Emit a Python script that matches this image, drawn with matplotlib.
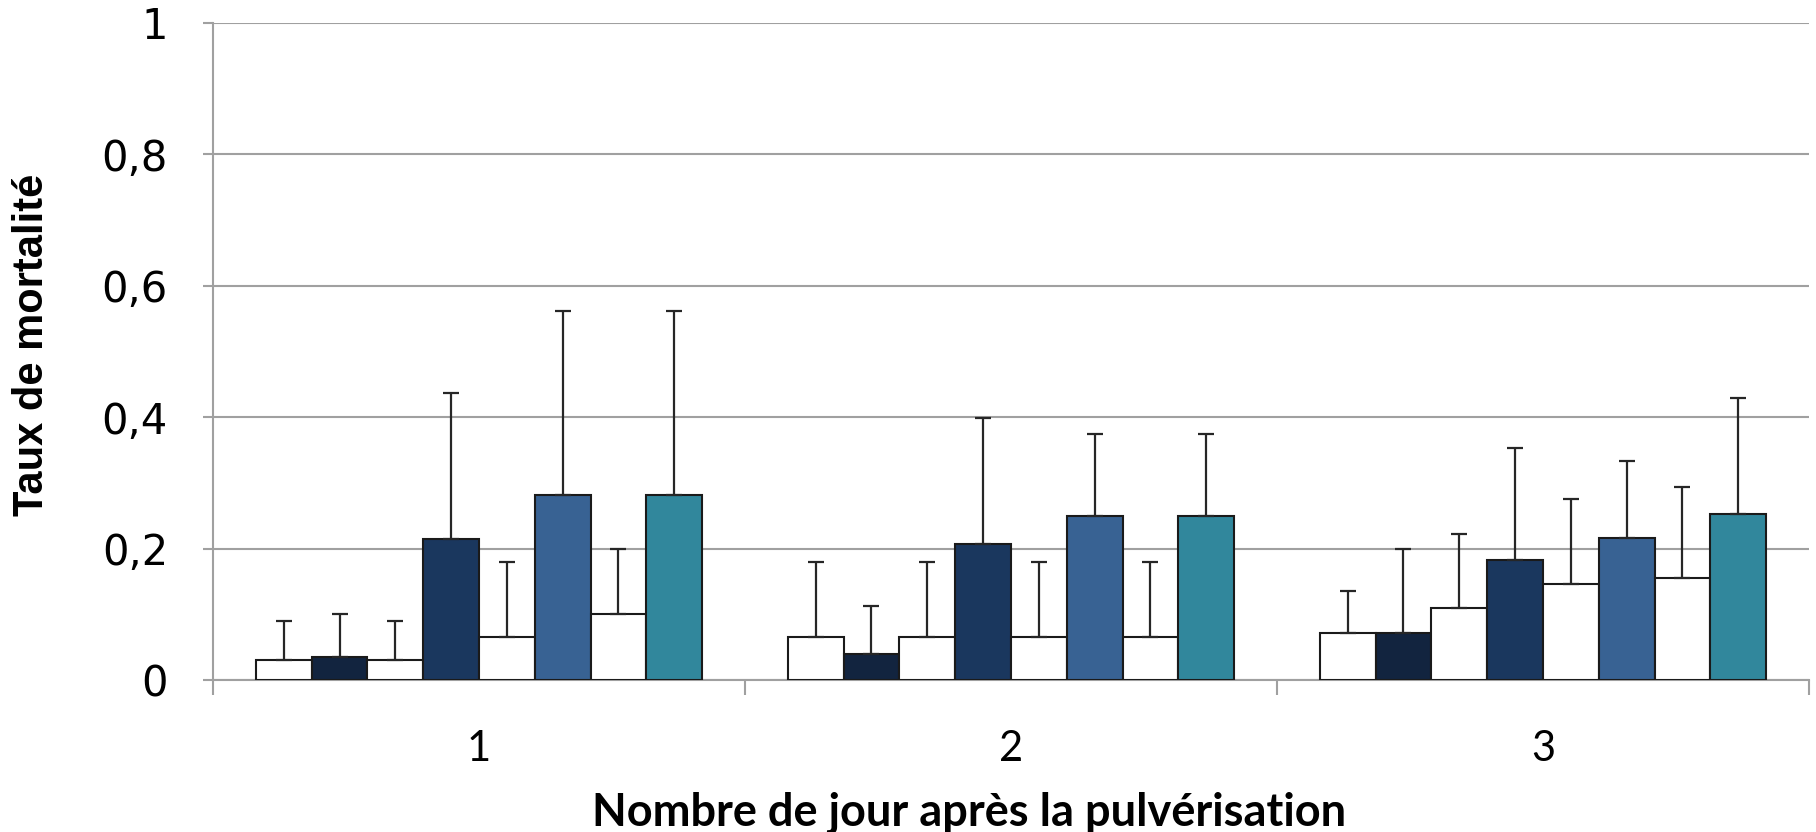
import matplotlib
matplotlib.use("Agg")
import matplotlib.pyplot as plt
import numpy as np

plt.rcParams['font.family'] = ['Lato', 'DejaVu Sans']

days = ["1", "2", "3"]
colors = ["#ffffff", "#12243f", "#ffffff", "#1a375e", "#ffffff", "#386293", "#ffffff", "#31879c"]
values = [
    [0.031, 0.035, 0.031, 0.214, 0.065, 0.282, 0.100, 0.282],
    [0.065, 0.040, 0.065, 0.207, 0.065, 0.249, 0.065, 0.249],
    [0.072, 0.071, 0.109, 0.182, 0.146, 0.216, 0.155, 0.253],
]
errors = [
    [0.059, 0.065, 0.059, 0.223, 0.115, 0.279, 0.100, 0.279],
    [0.115, 0.072, 0.115, 0.191, 0.115, 0.125, 0.115, 0.125],
    [0.064, 0.129, 0.113, 0.171, 0.129, 0.118, 0.138, 0.176],
]
ytick_vals = [0, 0.2, 0.4, 0.6, 0.8, 1.0]
ytick_labels = ["0", "0,2", "0,4", "0,6", "0,8", "1"]

fig = plt.figure(figsize=(18.16, 8.32), dpi=100)
ax = fig.add_axes([0.1173, 0.1827, 0.8788, 0.7897])

n = len(colors)
bw = 0.839 / n
x = np.arange(1, len(days) + 1)
vals = np.array(values)
errs = np.array(errors)
for i in range(n):
    pos = x - 0.839 / 2 + bw * (i + 0.5)
    ax.bar(pos, vals[:, i], width=bw, color=colors[i], edgecolor="#1a1a1a",
           linewidth=1.5, zorder=3)
    ax.errorbar(pos, vals[:, i], yerr=[np.zeros(len(days)), errs[:, i]],
                fmt="none", ecolor="#262626", elinewidth=1.6, capsize=6,
                capthick=1.6, zorder=4)

ax.set_xlim(0.5, 3.5)
ax.set_ylim(0, 1)
ax.set_yticks(ytick_vals)
ax.set_yticklabels(ytick_labels, fontsize=30, family=["DejaVu Sans"])
ax.set_xticks(x)
ax.set_xticklabels(days, fontsize=30)
ax.set_xticks([0.5, 1.5, 2.5, 3.5], minor=True)
ax.tick_params(axis="x", which="major", length=0, pad=36)
ax.tick_params(axis="x", which="minor", length=10.5, color="#a0a0a0", width=1.5)
ax.tick_params(axis="y", length=7.5, color="#a0a0a0", width=1.5, pad=25)

ax.grid(axis="y", color="#a0a0a0", linewidth=1.5, zorder=0)
for s in ["top", "right"]:
    ax.spines[s].set_visible(False)
for s in ["left", "bottom"]:
    ax.spines[s].set_color("#a0a0a0")
    ax.spines[s].set_linewidth(1.5)

ax.set_xlabel("Nombre de jour après la pulvérisation", fontsize=32.5,
              fontweight="bold")
ax.xaxis.set_label_coords(0.474, -0.169)
ax.set_ylabel("Taux de mortalité", fontsize=30, fontweight="bold",
              family=["Liberation Sans", "DejaVu Sans"])
ax.yaxis.set_label_coords(-0.101, 0.51)

fig.savefig("out.png", dpi=100)
